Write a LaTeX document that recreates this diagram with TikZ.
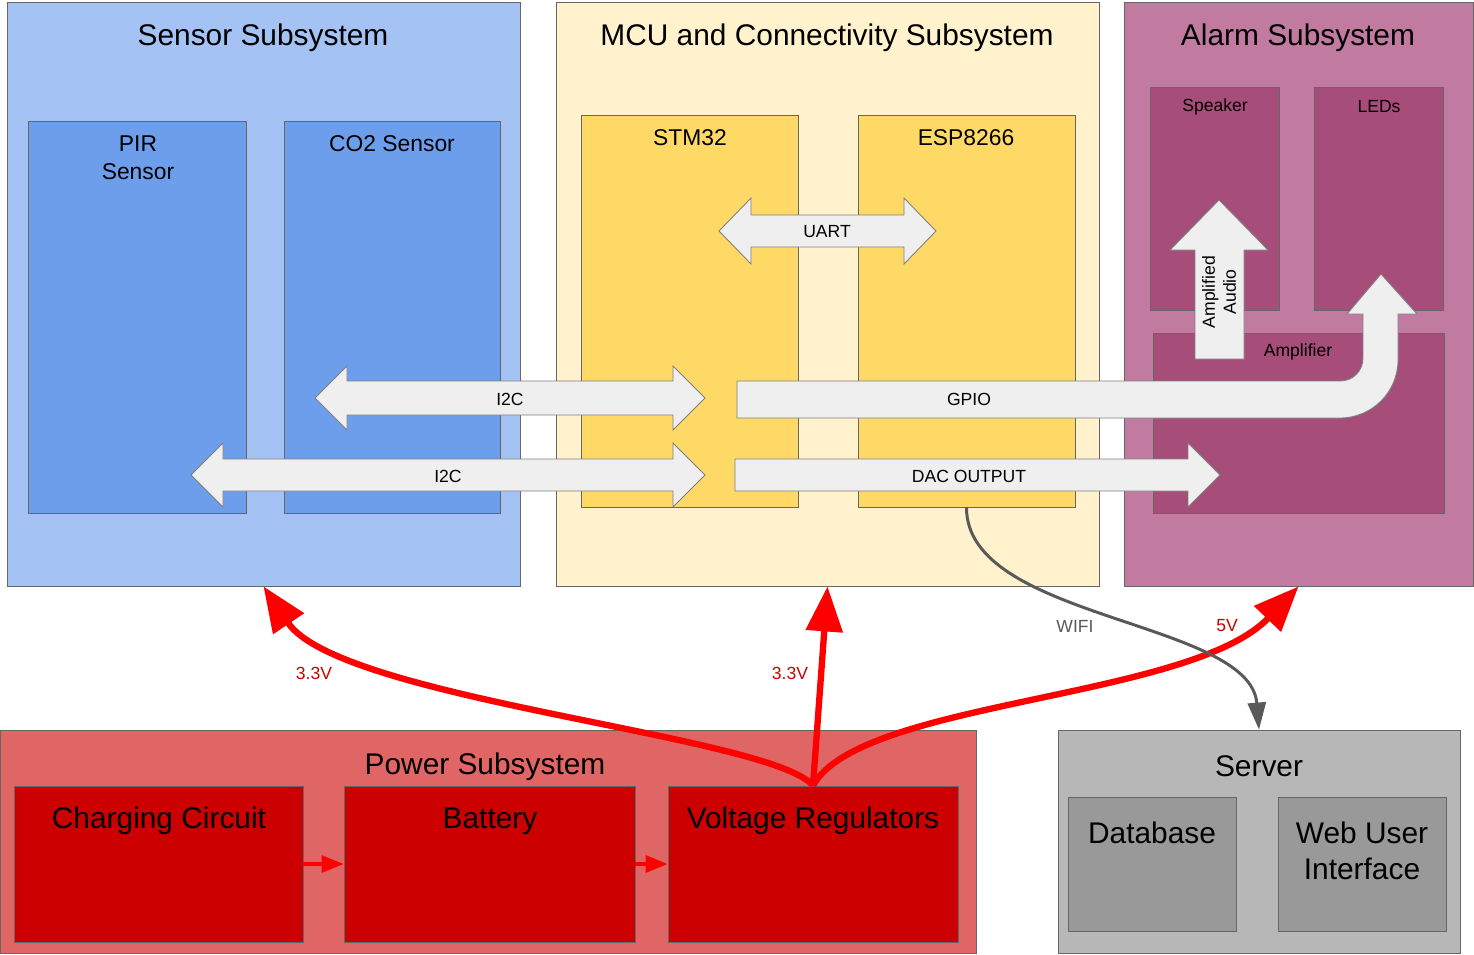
\documentclass[tikz,border=0pt]{standalone}
\usepackage{fontspec}
\setmainfont{Liberation Sans}
\usetikzlibrary{fit,arrows.meta}

\definecolor{sensorouter}{HTML}{A4C2F4}
\definecolor{sensorinner}{HTML}{6D9EEB}
\definecolor{mcuouter}{HTML}{FFF2CC}
\definecolor{mcuinner}{HTML}{FFD966}
\definecolor{alarmouter}{HTML}{C27BA0}
\definecolor{alarminner}{HTML}{A64D79}
\definecolor{powerouter}{HTML}{E06666}
\definecolor{powerinner}{HTML}{CC0000}
\definecolor{serverouter}{HTML}{B7B7B7}
\definecolor{serverinner}{HTML}{999999}
\definecolor{arrowfill}{HTML}{EFEFEF}
\definecolor{arrowedge}{HTML}{7F7F7F}
\definecolor{edgegray}{HTML}{666666}
\definecolor{powerred}{HTML}{FF0000}
\definecolor{voltred}{HTML}{CC0000}
\definecolor{wifigray}{HTML}{595959}

\tikzset{
  box/.style={draw=edgegray, line width=0.5pt, inner sep=0pt},
  fatarrow/.style={fill=arrowfill, draw=arrowedge, line width=0.5pt},
  bigtext/.style={font=\fontsize{17}{20.5}\selectfont, inner sep=0pt, align=center},
  midtext/.style={font=\fontsize{13}{16}\selectfont, inner sep=0pt, align=center},
  smalltext/.style={font=\fontsize{10}{12}\selectfont, inner sep=0pt, align=center},
  powerline/.style={draw=powerred, line width=3.6pt, -{Triangle[length=0.9cm, width=0.72cm]}},
  feedline/.style={draw=powerred, line width=1.8pt, -{Triangle[length=0.44cm, width=0.34cm]}},
  wifiline/.style={draw=wifigray, line width=1.7pt, -{Triangle[length=0.54cm, width=0.36cm]}}
}

\begin{document}
\begin{tikzpicture}[x=0.02cm, y=-0.02cm]
	\useasboundingbox (0,0) rectangle (1474,954);
	
	%%%%% SUBSYSTEMS %%%%%
	\node[box, fill=sensorouter, fit={(7,2) (520,586)}] (sensor) {};
	\node[box, fill=sensorinner, fit={(28,121) (246,513)}] (pir) {};
	\node[box, fill=sensorinner, fit={(284,121) (500,513)}] (cotwo) {};
	
	\node[box, fill=mcuouter, fit={(556,2) (1099,586)}] (mcu) {};
	\node[box, fill=mcuinner, fit={(581,115) (798,507)}] (stm) {};
	\node[box, fill=mcuinner, fit={(858,115) (1075,507)}] (esp) {};
	
	\node[box, fill=alarmouter, fit={(1124,2) (1473,586)}] (alarm) {};
	\node[box, fill=alarminner, fit={(1150,87) (1279,310)}] (speaker) {};
	\node[box, fill=alarminner, fit={(1314,87) (1443,310)}] (leds) {};
	\node[box, fill=alarminner, fit={(1153,333) (1444,513)}] (amp) {};
	
	\node[box, fill=powerouter, fit={(0,730) (976,953)}] (power) {};
	\node[box, fill=powerinner, fit={(14,786) (303,942)}] (charge) {};
	\node[box, fill=powerinner, fit={(344,786) (635,942)}] (battery) {};
	\node[box, fill=powerinner, fit={(668,786) (958,942)}] (vreg) {};
	
	\node[box, fill=serverouter, fit={(1058,730) (1460,953)}] (server) {};
	\node[box, fill=serverinner, fit={(1068,797) (1236,931)}] (database) {};
	\node[box, fill=serverinner, fit={(1278,797) (1446,931)}] (webui) {};
	
	%%%%% TITLES %%%%%
	\node[bigtext] (sensortitle) at (263,38) {Sensor Subsystem};
	\node[bigtext] (mcutitle) at (827,38) {MCU and Connectivity Subsystem};
	\node[bigtext] (alarmtitle) at (1298,38) {Alarm Subsystem};
	\node[bigtext] (powertitle) at (485,767) {Power Subsystem};
	\node[bigtext] (servertitle) at (1259,766) {Server};
	
	\node[midtext] (pirlbl) at (138,158) {PIR\\Sensor};
	\node[midtext] (cotwolbl) at (392,144) {CO2 Sensor};
	\node[midtext] (stmlbl) at (690,138) {STM32};
	\node[midtext] (esplbl) at (966,138) {ESP8266};
	\node[smalltext] (speakerlbl) at (1215,107) {Speaker};
	\node[smalltext] (ledslbl) at (1379,107) {LEDs};
	\node[smalltext] (amplbl) at (1298,352) {Amplifier};
	
	\node[bigtext] (chargelbl) at (159,821) {Charging Circuit};
	\node[bigtext] (batterylbl) at (490,821) {Battery};
	\node[bigtext] (vreglbl) at (813,821) {Voltage Regulators};
	\node[bigtext] (databaselbl) at (1152,833) {Database};
	\node[bigtext] (webuilbl) at (1362,851) {Web User\\Interface};
	
	%%%%% BUS ARROWS %%%%%
	\draw[fatarrow] (719,231) -- (751,198) -- (751,215) -- (904,215) -- (904,198) -- (936,231)
		-- (904,264) -- (904,247) -- (751,247) -- (751,264) -- cycle;
	\draw[fatarrow] (315,398) -- (347,366) -- (347,381) -- (673,381) -- (673,366) -- (705,398)
		-- (673,430) -- (673,415) -- (347,415) -- (347,430) -- cycle;
	\draw[fatarrow] (191,475) -- (223,443) -- (223,459) -- (673,459) -- (673,443) -- (705,475)
		-- (673,507) -- (673,491) -- (223,491) -- (223,507) -- cycle;
	\draw[fatarrow] (737,381) -- (1340,381) .. controls (1353,381) and (1363,371) .. (1363,358)
		-- (1363,314) -- (1347,314) -- (1381,274) -- (1417,314) -- (1398,314) -- (1398,360)
		.. controls (1398,392) and (1372,418) .. (1340,418) -- (737,418) -- cycle;
	\draw[fatarrow] (735,459) -- (1188,459) -- (1188,443) -- (1220,475) -- (1188,507) -- (1188,491)
		-- (735,491) -- cycle;
	\draw[fatarrow] (1195,359) -- (1195,250) -- (1170,250) -- (1219,200) -- (1268,250) -- (1244,250)
		-- (1244,359) -- cycle;
	
	\node[smalltext] (uartlbl) at (827,232) {UART};
	\node[smalltext] (ictwolbl) at (510,399) {I2C};
	\node[smalltext] (ictwolblb) at (448,476) {I2C};
	\node[smalltext] (gpiolbl) at (969,399) {GPIO};
	\node[smalltext] (daclbl) at (969,476) {DAC OUTPUT};
	\node[smalltext, rotate=90] (audiolbl) at (1219,292) {Amplified\\Audio};
	
	%%%%% POWER %%%%%
	\draw[feedline] (charge.east) -- (battery.west);
	\draw[feedline] (battery.east) -- (vreg.west);
	
	\draw[powerline] (vreg.north) .. controls (770,735) and (340,700) .. (sensor.south);
	\draw[powerline] (vreg.north) -- (mcu.south);
	\draw[powerline] (vreg.north) .. controls (860,700) and (1190,700) .. (alarm.south);
	
	\node[smalltext, text=voltred] (sensorvolt) at (314,673) {3.3V};
	\node[smalltext, text=voltred] (mcuvolt) at (790,673) {3.3V};
	\node[smalltext, text=voltred] (alarmvolt) at (1227,626) {5V};
	
	%%%%% WIFI %%%%%
	\draw[wifiline] (esp.south) .. controls (966,620) and (1250,620) .. (server.north);
	\node[smalltext, text=wifigray] (wifilbl) at (1075,626) {WIFI};
\end{tikzpicture}
\end{document}
